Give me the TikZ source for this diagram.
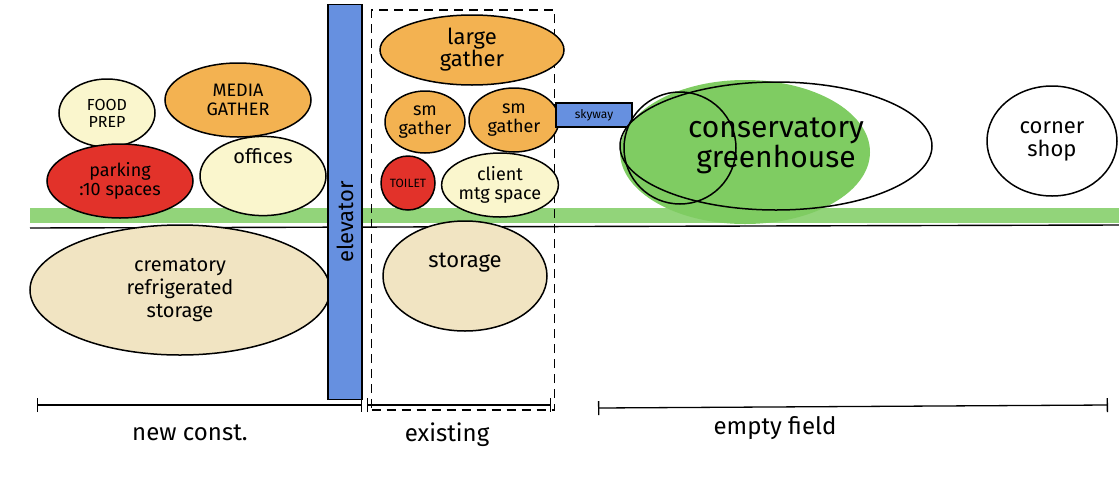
\documentclass[tikz,border=0pt]{standalone}
\usepackage{fontspec}
\setmainfont{Fira Sans}
\usepackage{tikz}
\usetikzlibrary{shapes.geometric,positioning,arrows.meta}
\definecolor{orng}{HTML}{F3B251}
\definecolor{rred}{HTML}{E2322A}
\definecolor{pale}{HTML}{FAF6CD}
\definecolor{beige}{HTML}{F1E4C2}
\definecolor{grn}{HTML}{7FCC62}
\definecolor{elevblue}{HTML}{6690E0}
\tikzset{room/.style={ellipse, draw, line width=1.5pt, align=center, inner sep=0pt, font=\fontsize{18}{19}\selectfont},
  span/.style={line width=1.3pt, {Bar[width=14pt]-Bar[width=14pt]}}}

\begin{document}
\begin{tikzpicture}[x=1pt,y=-1pt]
\useasboundingbox (0,0) rectangle (1119,488);
% ground line
\fill[grn!85] (30,208) rectangle (1119,223);
\draw[line width=1.4pt] (30,228) -- (1119,225);
% new construction
\node (food) [room, fill=pale, minimum width=96pt, minimum height=68pt, font=\fontsize{16}{17}\selectfont] at (107,113) {FOOD\\PREP};
\node (media) [room, fill=orng, minimum width=146pt, minimum height=74pt] at (238,100) {MEDIA\\GATHER};
\node (park) [room, fill=rred, minimum width=146pt, minimum height=74pt] at (120,181) {parking\\:10 spaces};
\node (off) [room, fill=pale, minimum width=126pt, minimum height=76pt, font=\fontsize{20}{21}\selectfont] at (263,176) {offices\\[20pt]};
\node (crem) [room, fill=beige, minimum width=300pt, minimum height=130pt, font=\fontsize{20}{23}\selectfont] at (180,290) {crematory\\refrigerated\\storage};
% elevator
\node (elev) [draw, line width=1.3pt, fill=elevblue, minimum width=34pt, minimum height=395pt] at (345,202) {};
\node (elevtxt) [rotate=90, font=\fontsize{22}{23}\selectfont] at (345,222) {elevator};
% existing building
\node (exist) [draw, line width=1.3pt, dash pattern=on 9pt off 6pt, minimum width=183pt, minimum height=400pt] at (463,210) {};
\node (large) [room, fill=orng, minimum width=184pt, minimum height=70pt, font=\fontsize{22}{22}\selectfont] at (472,50) {large\\gather};
\node (smA) [room, fill=orng, minimum width=80pt, minimum height=62pt] at (425,122) {sm\\gather};
\node (smB) [room, fill=orng, minimum width=90pt, minimum height=64pt] at (514,120) {sm\\gather};
\node (toil) [room, fill=rred, minimum width=54pt, minimum height=54pt, font=\fontsize{12}{13}\selectfont] at (408,183) {TOILET};
\node (client) [room, fill=pale, minimum width=112pt, minimum height=64pt] at (500,185) {client\\mtg space};
\node (stor) [room, fill=beige, minimum width=164pt, minimum height=110pt, font=\fontsize{22}{23}\selectfont] at (465,276) {storage\\[8pt]};
% empty field
\node (sky) [draw, line width=1.3pt, fill=elevblue, minimum width=76pt, minimum height=24pt, inner sep=0pt, font=\fontsize{12}{13}\selectfont] at (594,115) {skyway};
\fill[grn] (745,152) ellipse [x radius=125pt, y radius=72pt];
\node (cons) [room, minimum width=312pt, minimum height=128pt, font=\fontsize{30}{30}\selectfont] at (776,146) {conservatory\\greenhouse};
\node (consin) [circle, draw, line width=1.5pt, minimum size=112pt] at (680,148) {};
\node (shop) [room, minimum width=130pt, minimum height=110pt, font=\fontsize{22}{23}\selectfont] at (1052,141) {corner\\shop};
% extents
\coordinate (nc1) at (37,405);
\coordinate (nc2) at (362,405);
\coordinate (ex1) at (367,405);
\coordinate (ex2) at (551,405);
\coordinate (ef1) at (598,408);
\coordinate (ef2) at (1108,405);
\draw[span] (nc1) -- (nc2);
\draw[span] (ex1) -- (ex2);
\draw[span] (ef1) -- (ef2);
\node (nclab) [font=\fontsize{24}{26}\selectfont] at (190,433) {new const.};
\node (exlab) [font=\fontsize{24}{26}\selectfont] at (447,435) {existing};
\node (eflab) [font=\fontsize{24}{26}\selectfont] at (775,428) {empty field};
\end{tikzpicture}
\end{document}
